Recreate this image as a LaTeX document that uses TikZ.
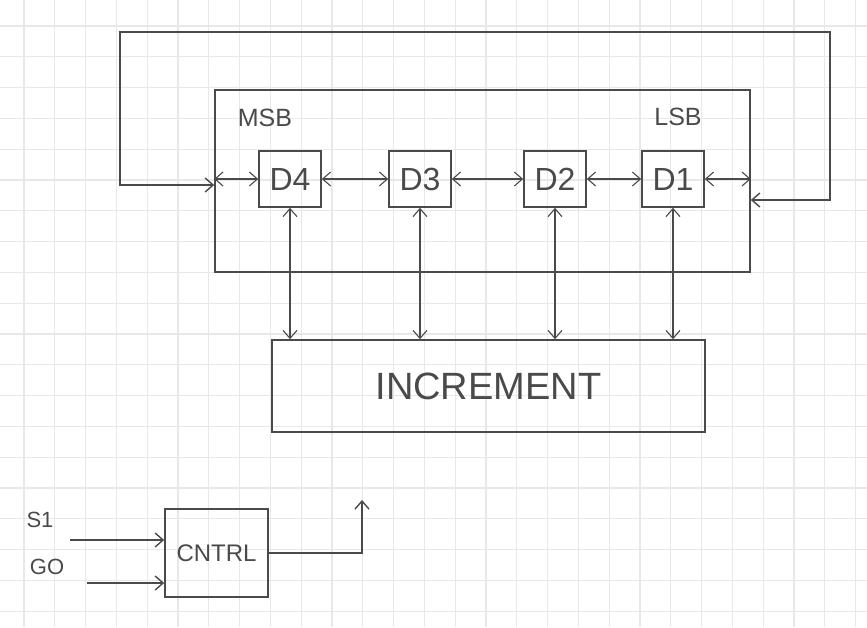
\documentclass[tikz,border=0pt]{standalone}
\usepackage{fontspec}
\setmainfont{Liberation Sans}
\usepackage{tikz}
\usetikzlibrary{arrows.meta}
\usepackage{xcolor}

\definecolor{pencil}{HTML}{4A4A4A}
\definecolor{paper}{HTML}{E8E8E8}

\tikzset{
  >={Straight Barb[length=8pt,width=14pt]},
  wire/.style={draw=pencil, line width=1.4pt},
  link/.style={draw=pencil, line width=1.1pt, <->},
  bitbox/.style={draw=pencil, line width=1.6pt, minimum width=62pt, minimum height=56pt,
                 inner sep=0pt, font=\fontsize{32}{34}\selectfont, text=pencil},
  bigbox/.style={draw=pencil, line width=1.6pt, inner sep=0pt, text=pencil},
  tag/.style={text=pencil, font=\fontsize{22}{24}\selectfont}
}

\begin{document}
\begin{tikzpicture}[x=1pt, y=-1pt]
    \useasboundingbox (0,0) rectangle (867,627);
    % graph paper
    \foreach \i in {0,...,27} \draw[paper, line width=1.2pt] (24+30.8*\i,0) -- (24+30.8*\i,627);
    \foreach \j in {0,...,19} \draw[paper, line width=1.2pt] (0,26+30.8*\j) -- (867,26+30.8*\j);

    % shift register
    \node[bigbox, minimum width=535pt, minimum height=182pt] (reg) at (482.5,181) {};
    \node[tag, font=\fontsize{25}{27}\selectfont] (msb) at (265,118) {MSB};
    \node[tag, font=\fontsize{25}{27}\selectfont] (lsb) at (678,117) {LSB};
    \node[bitbox] (d4) at (290,179) {D4};
    \node[bitbox] (d3) at (420,179) {D3};
    \node[bitbox] (d2) at (555,179) {D2};
    \node[bitbox] (d1) at (673,179) {D1};

    \draw[link] (d4.west -| reg.west) -- (d4.west);
    \draw[link] (d4) -- (d3);
    \draw[link] (d3) -- (d2);
    \draw[link] (d2) -- (d1);
    \draw[link] (d1.east) -- (d1.east -| reg.east);

    % wrap-around
    \draw[wire, <->] (reg.east |- 0,200) -- (830,200) |- (120,32) |- (reg.west |- 0,185);

    % incrementer
    \node[bigbox, minimum width=433pt, minimum height=92pt,
          font=\fontsize{38}{40}\selectfont] (inc) at (488.5,386) {INCREMENT};
    \foreach \b in {d4,d3,d2,d1}
        \draw[link] (\b.south) -- (\b.south |- inc.north);

    % control
    \node[bigbox, minimum width=103pt, minimum height=88pt,
          font=\fontsize{24}{26}\selectfont] (cntrl) at (216.5,553) {CNTRL};
    \node[tag] (s1) at (40,520) {S1};
    \node[tag] (go) at (47,567) {GO};
    \coordinate (s1in) at (70,540);
    \coordinate (goin) at (87,583);
    \coordinate (out) at (362,500);
    \draw[wire, ->] (s1in) -- (s1in -| cntrl.west);
    \draw[wire, ->] (goin) -- (goin -| cntrl.west);
    \draw[wire, ->] (cntrl.east) -- (cntrl.east -| out) -- (out);
\end{tikzpicture}
\end{document}
